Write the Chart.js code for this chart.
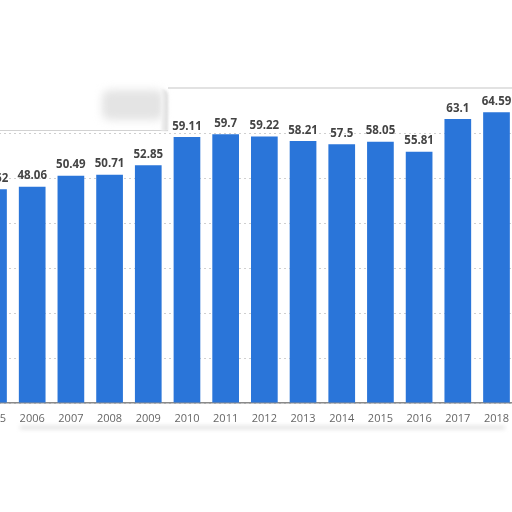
<!DOCTYPE html>
<html>
<head>
<meta charset="utf-8">
<script src="https://cdn.jsdelivr.net/npm/chart.js@4.4.0/dist/chart.umd.min.js"></script>
<style>
  html, body { margin: 0; padding: 0; background: #fff; overflow: hidden; }
  #wrap { position: relative; width: 512px; height: 512px; overflow: hidden; }
  #myChart { position: absolute; left: -28px; top: 0; }
  .sheet { position: absolute; background: #fff; }
  #sheetLeft { left: 0; top: 0; width: 168px; height: 130px; border-bottom: 1.5px solid #d2d2d2; }
  #sheetRight { left: 168px; top: 0; width: 344px; height: 87px; border-bottom: 2px solid #e2e2e2; }
  #blob { position: absolute; left: 102px; top: 90px; width: 62px; height: 30px; border-radius: 8px; background: #e4e4e4; filter: blur(4px); }
  #edge { position: absolute; left: 161px; top: 89px; width: 7px; height: 42px; background: linear-gradient(to right, #f4f4f4, #dcdcdc); border-top-right-radius: 6px; filter: blur(1px); }
  #shadowBottom { position: absolute; left: 20px; top: 426px; width: 485px; height: 3px; background: #ddd; filter: blur(2px); }
</style>
</head>
<body>
<div id="wrap">
  <canvas id="myChart" width="546" height="512"></canvas>
  <div class="sheet" id="sheetLeft"></div>
  <div class="sheet" id="sheetRight"></div>
  <div id="blob"></div>
  <div id="edge"></div>
  <div id="shadowBottom"></div>
</div>
<script>
  // Values (first and last bars are cut by the frame)
  const years = ['2005', '2006', '2007', '2008', '2009', '2010', '2011', '2012', '2013', '2014', '2015', '2016', '2017', '2018'];
  const values = [47.52, 48.06, 50.49, 50.71, 52.85, 59.11, 59.7, 59.22, 58.21, 57.5, 58.05, 55.81, 63.1, 64.59];
  const yTicks = [0, 10, 20, 30, 40, 50, 60, 70];

  // value labels above each bar
  const valueLabels = {
    id: 'valueLabels',
    afterDatasetsDraw(chart) {
      const c = chart.ctx;
      const meta = chart.getDatasetMeta(0);
      c.save();
      c.font = 'bold 11.5px "Open Sans"';
      c.fillStyle = '#444';
      c.textAlign = 'center';
      c.textBaseline = 'bottom';
      meta.data.forEach((bar, i) => {
        c.fillText(String(values[i]), bar.x, bar.y - 5);
      });
      c.restore();
    }
  };

  const ctx = document.getElementById('myChart');
  const myChart = new Chart(ctx, {
    type: 'bar',
    data: {
      labels: years,
      datasets: [{
        data: values,
        backgroundColor: '#2a75d9',
        borderWidth: 0,
        categoryPercentage: 1,
        barPercentage: 0.69
      }]
    },
    options: {
      responsive: false,
      animation: false,
      layout: { padding: { top: 88, left: 0, right: 0, bottom: 0 } },
      plugins: {
        legend: { display: false },
        tooltip: { enabled: false }
      },
      scales: {
        x: {
          grid: { display: false, drawTicks: false },
          border: { display: true, color: '#8a8a8a', width: 1.5 },
          ticks: {
            padding: 9,
            color: '#666',
            font: { family: '"Open Sans"', size: 11 },
            maxRotation: 0,
            autoSkip: false
          },
          afterFit: s => { s.height = 109; }
        },
        y: {
          min: yTicks[0],
          max: yTicks[yTicks.length - 1],
          afterBuildTicks: s => { s.ticks = yTicks.map(v => ({ value: v })); },
          grid: { color: '#cfcfcf', lineWidth: 1, drawTicks: false },
          border: { display: false, dash: [2, 3] },
          ticks: { display: false },
          afterFit: s => { s.width = 0; }
        }
      }
    },
    plugins: [valueLabels]
  });
</script>
</body>
</html>
